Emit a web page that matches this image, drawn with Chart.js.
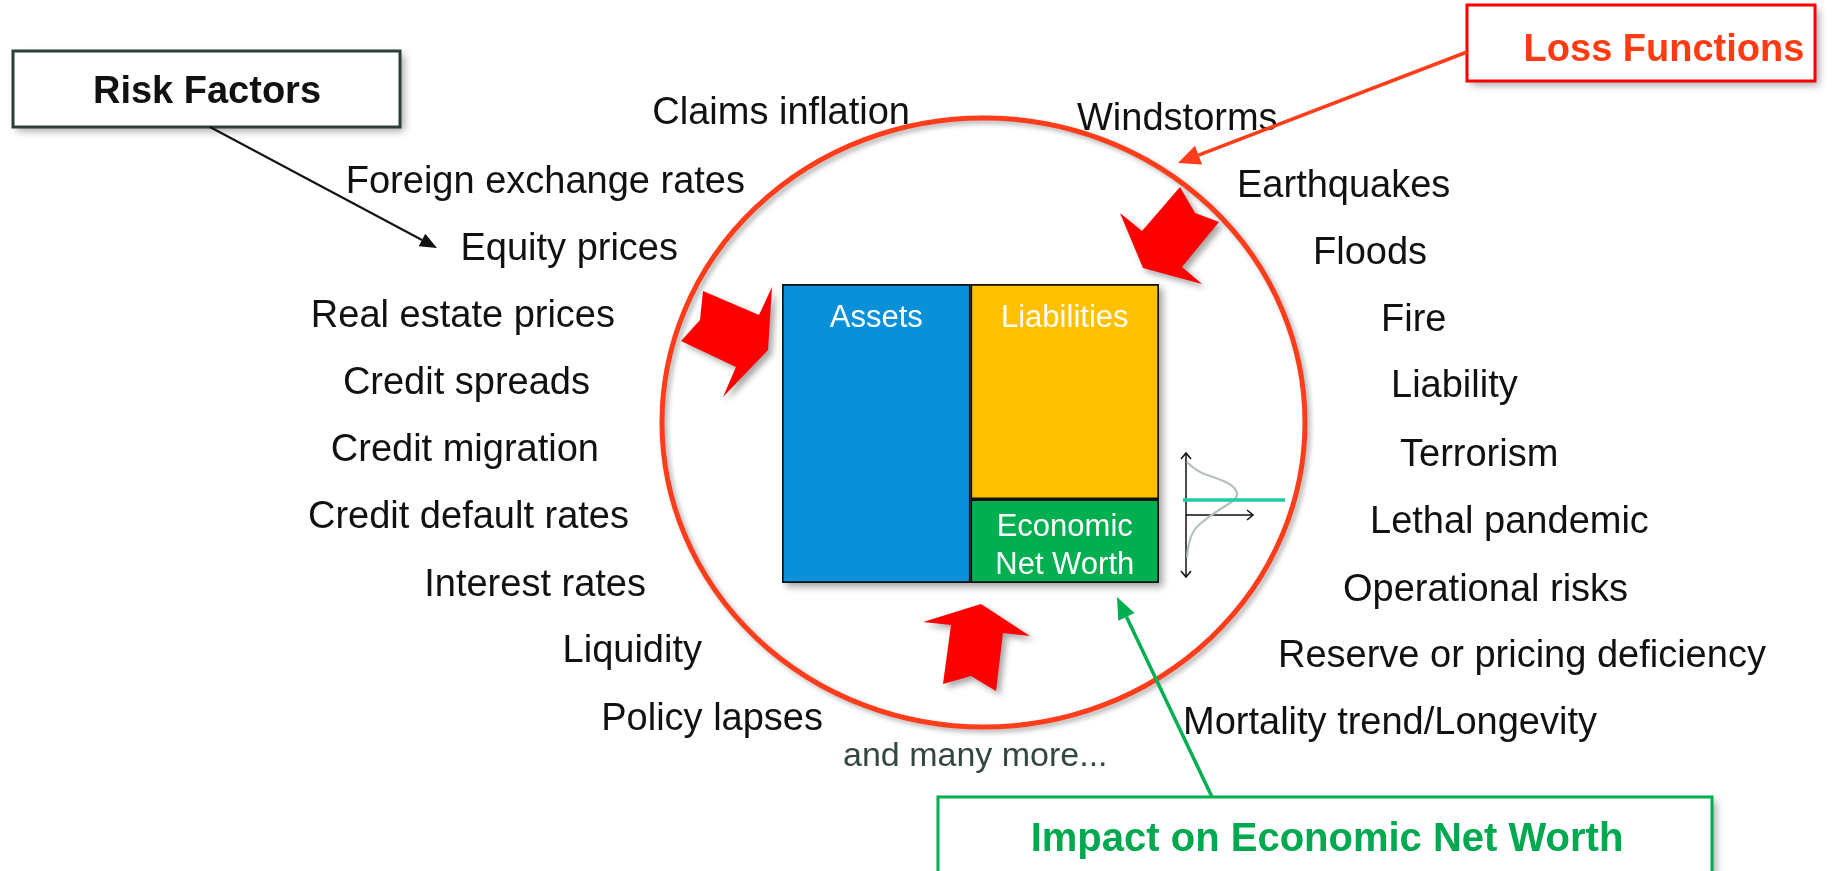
<!DOCTYPE html>
<html lang="en">
<head>
  <meta charset="UTF-8">
  <title>Risk Factors, Loss Functions and Economic Net Worth</title>
  <script src="https://cdn.jsdelivr.net/npm/chart.js"></script>
  <style>
    body { margin: 0; background: #fff; }
    #wrap { position: relative; width: 1848px; height: 871px; overflow: hidden; }
    #diagram { position: absolute; left: 0; top: 0; }
    #sheet { position: absolute; left: 782px; top: 284px; }
  </style>
</head>
<body>
  <div id="wrap">
    <canvas id="diagram" width="1848" height="871"></canvas>
    <!-- balance sheet: stacked bars -->
    <canvas id="sheet" width="389" height="311"></canvas>
  </div>

  <script>
    // chart content
    const riskFactors = ['Claims inflation', 'Foreign exchange rates', 'Equity prices', 'Real estate prices',
      'Credit spreads', 'Credit migration', 'Credit default rates', 'Interest rates', 'Liquidity', 'Policy lapses'];
    const lossFunctions = ['Windstorms', 'Earthquakes', 'Floods', 'Fire', 'Liability', 'Terrorism',
      'Lethal pandemic', 'Operational risks', 'Reserve or pricing deficiency', 'Mortality trend/Longevity'];
    const sheetItems = ['Assets', 'Liabilities', 'Economic Net Worth'];
    const sheetValues = [100, 72, 28];
    const titles = ['Risk Factors', 'Loss Functions', 'Impact on Economic Net Worth'];
    const moreText = 'and many more...';

    // layout, in page pixels (the diagram axes run 0..1848 and 0..871)
    const riskX = [910, 745, 678, 615, 590, 599, 629, 646, 702, 823];     // right edge of text
    const riskY = [110, 179, 246, 313, 380, 447, 514, 582, 648, 716];
    const lossX = [1077, 1237, 1313, 1381, 1391, 1400, 1370, 1343, 1278, 1183]; // left edge of text
    const lossY = [116, 183, 250, 317, 383, 452, 519, 587, 653, 720];
    const titleX = [207, 1664, 1327];
    const titleY = [89, 47, 837];
    const titleSizes = [38, 38, 40];
    const titleColors = ['#111111', '#ff3b14', '#00a84f'];

    const FONT = 'Liberation Sans, Arial, sans-serif';
    Chart.defaults.font.family = FONT;

    const RED = '#ff0000';
    const ORANGE = '#ff3d1a';
    const GREEN = '#00b050';

    function shadow(ctx, blur, off, alpha) {
      ctx.shadowColor = 'rgba(0,0,0,' + alpha + ')';
      ctx.shadowBlur = blur;
      ctx.shadowOffsetX = off;
      ctx.shadowOffsetY = off;
    }

    function noShadow(ctx) {
      ctx.shadowColor = 'transparent';
      ctx.shadowBlur = 0;
      ctx.shadowOffsetX = 0;
      ctx.shadowOffsetY = 0;
    }

    // block arrows (outline points)
    const blockArrows = [
      [[703, 291], [759, 315], [772, 287], [768, 350], [723, 397], [736, 367], [681, 341], [700, 320]],
      [[1180, 187], [1195, 213], [1219, 222], [1182, 267], [1202, 284], [1143, 268], [1120, 213], [1142, 231]],
      [[923, 622], [981, 604], [1030, 636], [1003, 633], [996, 691], [971, 676], [943, 684], [951, 625]]
    ];

    // sideways density curve next to the balance sheet
    const curvePts = [[1187, 462], [1197, 472], [1217, 478], [1232, 485], [1238, 493], [1235, 500],
      [1222, 508], [1207, 518], [1193, 530], [1188, 547], [1187, 557]];

    const decorPlugin = {
      id: 'decor',
      beforeDatasetsDraw(chart) {
        const ctx = chart.ctx;
        const sx = v => chart.scales.x.getPixelForValue(v);
        const sy = v => chart.scales.y.getPixelForValue(v);

        ctx.save();
        // big circle
        ctx.beginPath();
        ctx.ellipse(sx(983.5), sy(422.5), 321.5, 304.5, 0, 0, Math.PI * 2);
        ctx.lineWidth = 5;
        ctx.strokeStyle = ORANGE;
        shadow(ctx, 5, 3, 0.3);
        ctx.stroke();

        // red block arrows
        shadow(ctx, 6, 4, 0.35);
        ctx.fillStyle = RED;
        blockArrows.forEach(poly => {
          ctx.beginPath();
          poly.forEach((p, i) => i ? ctx.lineTo(sx(p[0]), sy(p[1])) : ctx.moveTo(sx(p[0]), sy(p[1])));
          ctx.closePath();
          ctx.fill();
        });
        noShadow(ctx);

        // title boxes
        const boxes = [[13, 51, 400, 127, '#2c3e36'], [1467, 5, 1815, 81, RED], [938, 797, 1712, 890, GREEN]];
        boxes.forEach(b => {
          const x0 = sx(b[0]), y0 = sy(b[1]), w = sx(b[2]) - x0, h = sy(b[3]) - y0;
          shadow(ctx, 8, 4, 0.35);
          ctx.fillStyle = '#fff';
          ctx.fillRect(x0, y0, w, h);
          noShadow(ctx);
          ctx.lineWidth = 3;
          ctx.strokeStyle = b[4];
          ctx.strokeRect(x0, y0, w, h);
        });

        // small distribution glyph
        ctx.strokeStyle = '#111';
        ctx.lineWidth = 1.5;
        const chev = (x, y, dx, dy) => {
          ctx.beginPath();
          ctx.moveTo(x + dx * 6 - dy * 5, y + dy * 6 - dx * 5);
          ctx.lineTo(x, y);
          ctx.lineTo(x + dx * 6 + dy * 5, y + dy * 6 + dx * 5);
          ctx.stroke();
        };
        ctx.beginPath();
        ctx.moveTo(sx(1186), sy(453));
        ctx.lineTo(sx(1186), sy(577));
        ctx.moveTo(sx(1186), sy(515));
        ctx.lineTo(sx(1253), sy(515));
        ctx.stroke();
        chev(sx(1186), sy(453), 0, 1);
        chev(sx(1186), sy(577), 0, -1);
        chev(sx(1253), sy(515), -1, 0);

        ctx.beginPath();
        ctx.strokeStyle = '#b3c1bb';
        ctx.lineWidth = 2.2;
        ctx.moveTo(sx(curvePts[0][0]), sy(curvePts[0][1]));
        for (let i = 1; i < curvePts.length - 1; i++) {
          const mx = (curvePts[i][0] + curvePts[i + 1][0]) / 2;
          const my = (curvePts[i][1] + curvePts[i + 1][1]) / 2;
          ctx.quadraticCurveTo(sx(curvePts[i][0]), sy(curvePts[i][1]), sx(mx), sy(my));
        }
        const last = curvePts[curvePts.length - 1];
        ctx.lineTo(sx(last[0]), sy(last[1]));
        ctx.stroke();

        ctx.beginPath();
        ctx.strokeStyle = '#1fcca8';
        ctx.lineWidth = 3.5;
        ctx.moveTo(sx(1183), sy(500));
        ctx.lineTo(sx(1285), sy(500));
        ctx.stroke();
        ctx.restore();
      },
      afterDatasetsDraw(chart) {
        const ctx = chart.ctx;
        // text labels sit on the invisible points
        chart.data.datasets.forEach((ds, i) => {
          const meta = chart.getDatasetMeta(i);
          ctx.save();
          ctx.textAlign = ds.align;
          ctx.textBaseline = 'alphabetic';
          meta.data.forEach((pt, j) => {
            const size = Array.isArray(ds.size) ? ds.size[j] : ds.size;
            ctx.font = ds.weight + ' ' + size + 'px ' + FONT;
            ctx.fillStyle = Array.isArray(ds.color) ? ds.color[j] : ds.color;
            ctx.fillText(ds.texts[j], pt.x, pt.y + size * 0.36);
          });
          ctx.restore();
        });

        // connector arrows
        const sx = v => chart.scales.x.getPixelForValue(v);
        const sy = v => chart.scales.y.getPixelForValue(v);
        const arrow = (x0, y0, x1, y1, color, lw, len, half) => {
          x0 = sx(x0); y0 = sy(y0); x1 = sx(x1); y1 = sy(y1);
          const a = Math.atan2(y1 - y0, x1 - x0);
          const bx = x1 - Math.cos(a) * len, by = y1 - Math.sin(a) * len;
          ctx.save();
          ctx.strokeStyle = color;
          ctx.fillStyle = color;
          ctx.lineWidth = lw;
          ctx.beginPath();
          ctx.moveTo(x0, y0);
          ctx.lineTo(bx, by);
          ctx.stroke();
          ctx.beginPath();
          ctx.moveTo(x1, y1);
          ctx.lineTo(bx - Math.sin(a) * half, by + Math.cos(a) * half);
          ctx.lineTo(bx + Math.sin(a) * half, by - Math.cos(a) * half);
          ctx.closePath();
          ctx.fill();
          ctx.restore();
        };
        arrow(210, 127, 437, 248, '#111', 2, 17, 7);
        arrow(1467, 52, 1178, 163, ORANGE, 3.5, 22, 10);
        arrow(1212, 797, 1117, 597, GREEN, 3.5, 22, 9);
      }
    };

    const pointsOf = (xs, ys) => xs.map((x, i) => ({ x: x, y: ys[i] }));

    new Chart(document.getElementById('diagram'), {
      type: 'scatter',
      data: {
        datasets: [
          { label: 'Risk factors', data: pointsOf(riskX, riskY), texts: riskFactors,
            weight: 'normal', size: 38, align: 'right', color: '#111111' },
          { label: 'Loss functions', data: pointsOf(lossX, lossY), texts: lossFunctions,
            weight: 'normal', size: 38, align: 'left', color: '#111111' },
          { label: 'More', data: [{ x: 843, y: 754 }], texts: [moreText],
            weight: 'normal', size: 34, align: 'left', color: '#34473f' },
          { label: 'Titles', data: pointsOf(titleX, titleY), texts: titles,
            weight: 'bold', size: titleSizes, align: 'center', color: titleColors }
        ]
      },
      options: {
        responsive: false,
        animation: false,
        layout: { padding: 0 },
        elements: { point: { radius: 0, hoverRadius: 0 } },
        scales: {
          x: { type: 'linear', min: 0, max: 1848, display: false },
          y: { type: 'linear', min: 0, max: 871, reverse: true, display: false }
        },
        plugins: { legend: { display: false }, tooltip: { enabled: false } }
      },
      plugins: [decorPlugin]
    });

    // balance sheet labels and shadow
    const sheetPlugin = {
      id: 'sheetText',
      beforeDatasetsDraw(chart) {
        const ctx = chart.ctx;
        let l = Infinity, r = -Infinity, t = Infinity, b = -Infinity;
        chart.data.datasets.forEach((ds, i) => {
          chart.getDatasetMeta(i).data.forEach(el => {
            if (el.y == null || isNaN(el.y) || el.skip) return;
            l = Math.min(l, el.x - el.width / 2);
            r = Math.max(r, el.x + el.width / 2);
            t = Math.min(t, el.y, el.base);
            b = Math.max(b, el.y, el.base);
          });
        });
        ctx.save();
        shadow(ctx, 7, 4, 0.35);
        ctx.fillStyle = '#fff';
        ctx.fillRect(l, t, r - l, b - t);
        ctx.restore();
      },
      afterDatasetsDraw(chart) {
        const ctx = chart.ctx;
        ctx.save();
        ctx.font = '31px ' + FONT;
        ctx.fillStyle = '#ffffff';
        ctx.textAlign = 'center';
        ctx.textBaseline = 'alphabetic';
        chart.data.datasets.forEach((ds, i) => {
          chart.getDatasetMeta(i).data.forEach((el, j) => {
            if (ds.data[j] == null) return;
            const top = Math.min(el.y, el.base);
            if (ds.label === sheetItems[2]) {
              const mid = (el.y + el.base) / 2;
              ctx.fillText('Economic', el.x, mid - 16 + 11);
              ctx.fillText('Net Worth', el.x, mid + 22 + 11);
            } else {
              ctx.fillText(ds.label, el.x, top + 32 + 11);
            }
          });
        });
        ctx.restore();
      }
    };

    new Chart(document.getElementById('sheet'), {
      type: 'bar',
      data: {
        labels: ['Assets', 'Liabilities and net worth'],
        datasets: [
          { label: sheetItems[0], data: [sheetValues[0], null], backgroundColor: '#0891d8' },
          { label: sheetItems[2], data: [null, sheetValues[2]], backgroundColor: '#00b050' },
          { label: sheetItems[1], data: [null, sheetValues[1]], backgroundColor: '#ffc000' }
        ]
      },
      options: {
        responsive: false,
        animation: false,
        layout: { padding: { right: 12, bottom: 12 } },
        datasets: {
          bar: { barPercentage: 1, categoryPercentage: 1, borderWidth: 2, borderColor: '#111', borderSkipped: false }
        },
        scales: {
          x: { display: false, stacked: true },
          y: { display: false, stacked: true, min: 0, max: 100 }
        },
        plugins: { legend: { display: false }, tooltip: { enabled: false } }
      },
      plugins: [sheetPlugin]
    });
  </script>
</body>
</html>
